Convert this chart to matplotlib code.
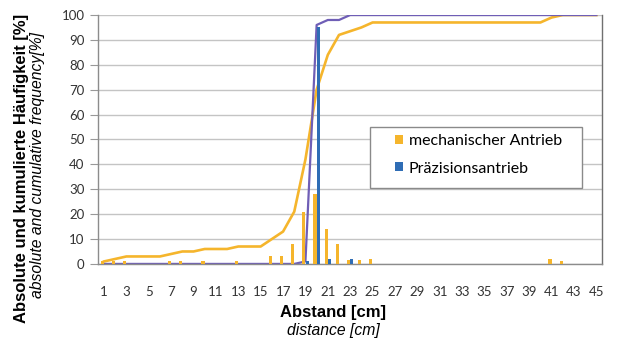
import matplotlib
matplotlib.use("Agg")
import matplotlib.pyplot as plt
from matplotlib.patches import Patch, Rectangle
import numpy as np

# ---- data ----
categories = list(range(1, 46))
tick_labels = [str(c) if c % 2 == 1 else "" for c in categories]

# absolute frequency [%] - mechanischer Antrieb
mech_abs = [1, 1, 1, 0, 0, 0, 1, 1, 0, 1, 0, 0, 1, 0, 0,
            3, 3, 8, 21, 28, 14, 8, 1.5, 1.5, 2, 0, 0, 0, 0, 0,
            0, 0, 0, 0, 0, 0, 0, 0, 0, 0, 2, 1, 0, 0, 0]
# absolute frequency [%] - Präzisionsantrieb
prec_abs = [0, 0, 0, 0, 0, 0, 0, 0, 0, 0, 0, 0, 0, 0, 0,
            0, 0, 0, 1, 95, 2, 0, 2, 0, 0, 0, 0, 0, 0, 0,
            0, 0, 0, 0, 0, 0, 0, 0, 0, 0, 0, 0, 0, 0, 0]
# cumulative frequency [%] - mechanischer Antrieb
mech_cum = [1, 2, 3, 3, 3, 3, 4, 5, 5, 6, 6, 6, 7, 7, 7,
            10, 13, 21, 42, 70, 84, 92, 93.5, 95, 97, 97, 97, 97, 97, 97,
            97, 97, 97, 97, 97, 97, 97, 97, 97, 97, 99, 100, 100, 100, 100]
# cumulative frequency [%] - Präzisionsantrieb
prec_cum = [0, 0, 0, 0, 0, 0, 0, 0, 0, 0, 0, 0, 0, 0, 0,
            0, 0, 0, 1, 96, 98, 98, 100, 100, 100, 100, 100, 100, 100, 100,
            100, 100, 100, 100, 100, 100, 100, 100, 100, 100, 100, 100, 100, 100, 100]

series_names = ["mechanischer Antrieb", "Präzisionsantrieb"]
y_ticks = list(range(0, 101, 10))

# ---- style ----
YELLOW = "#F5B52C"
BLUE = "#2F6DB5"
PURPLE = "#6F5EB6"
GRID = "#C4C4C4"
TICKFONT = "Lato"
LABELFONT = "Liberation Sans"
W, H = 619, 345

fig = plt.figure(figsize=(6.19, 3.45), dpi=100)
ax = fig.add_axes([0.159, 0.235, 0.8135, 0.7215])

x = np.array(categories, dtype=float)
bw = 0.28
ax.bar(x - 0.15, mech_abs, width=bw, color=YELLOW, zorder=3, linewidth=0)
ax.bar(x + 0.15, prec_abs, width=bw, color=BLUE, zorder=3, linewidth=0)
ax.plot(x, mech_cum, color=YELLOW, lw=1.9, zorder=2, solid_joinstyle="round")
ax.plot(x, prec_cum, color=PURPLE, lw=1.6, zorder=2.5, solid_joinstyle="round")

ax.set_xlim(0.5, 45.5)
ax.set_ylim(0, 100)
ax.set_yticks(y_ticks)
ax.set_xticks(categories)
ax.set_xticklabels(tick_labels, fontfamily=TICKFONT, fontsize=9.5, color="#333333")
ax.set_yticklabels([str(v) for v in y_ticks], fontfamily=TICKFONT, fontsize=9.5, color="#333333")
ax.tick_params(axis="x", length=0, pad=16)
ax.tick_params(axis="y", length=6, width=0.8, color="#999999", pad=4)

ax.yaxis.grid(True, color=GRID, lw=1.0, zorder=0)
ax.set_axisbelow(True)
ax.spines["top"].set_visible(False)
ax.spines["left"].set_color("#8C8C8C")
ax.spines["bottom"].set_color("#8C8C8C")
ax.spines["right"].set_color("#707070")
for s in ["left", "bottom", "right"]:
    ax.spines[s].set_linewidth(1.0)

# axis labels (two lines each: bold German, italic English)
fig.text(22 / W, 1 - 168 / H, "Absolute und kumulierte Häufigkeit [%]",
         rotation=90, ha="center", va="center", fontfamily=LABELFONT,
         fontweight="bold", fontsize=12)
fig.text(38 / W, 1 - 165 / H, "absolute and cumulative frequency[%]",
         rotation=90, ha="center", va="center", fontfamily=LABELFONT,
         fontstyle="italic", fontsize=11.3)
fig.text(333 / W, 1 - 313 / H, "Abstand [cm]", ha="center", va="center",
         fontfamily=LABELFONT, fontweight="bold", fontsize=12)
fig.text(333 / W, 1 - 331 / H, "distance [cm]", ha="center", va="center",
         fontfamily=LABELFONT, fontstyle="italic", fontsize=11.3)

# legend frame (wider padding than matplotlib's uniform borderpad)
frame = Rectangle((370 / W, 1 - 188 / H), (582 - 370) / W, (188 - 127) / H,
                  transform=fig.transFigure, facecolor="white",
                  edgecolor="#8A8A8A", lw=1.0, zorder=4)
ax.add_artist(frame)
frame.set_clip_on(False)

handles = [Patch(facecolor=YELLOW, edgecolor="none"), Patch(facecolor=BLUE, edgecolor="none")]
leg = ax.legend(handles, series_names, loc="upper left",
                bbox_to_anchor=(395 / W, 1 - 134 / H),
                bbox_transform=fig.transFigure,
                frameon=False,
                prop={"family": TICKFONT, "size": 11.5},
                handlelength=0.5, handleheight=0.5, handletextpad=0.35,
                labelspacing=0.85, borderpad=0, borderaxespad=0)
leg.set_zorder(5)

fig.savefig("out.png", dpi=100)
